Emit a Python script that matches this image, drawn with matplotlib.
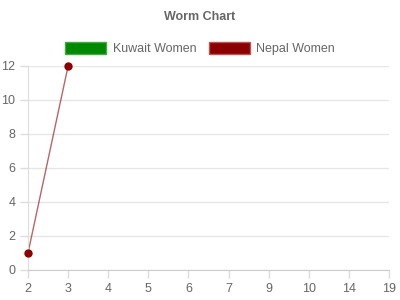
import numpy as np
import matplotlib
matplotlib.use('Agg')
import matplotlib.pyplot as plt
from matplotlib.patches import Patch

plt.rcParams['font.family'] = ['Liberation Sans', 'DejaVu Sans']

categories = ['2', '3', '4', '5', '6', '7', '9', '10', '14', '19']
kuwait_women = [np.nan] * 10
nepal_women = [1, 12] + [np.nan] * 8

fig = plt.figure(figsize=(4, 3), dpi=100)
ax = fig.add_axes([0.07, 0.1, 0.9025, 0.68])

x = np.arange(len(categories))
ax.plot(x, kuwait_women, color='#008800', marker='o', ms=5, lw=1, clip_on=False)
ax.plot(x, nepal_women, color=(0.545, 0, 0, 0.6), lw=1, clip_on=False)
ax.plot(x, nepal_women, 'o', color='#8b0000', ms=5, clip_on=False, zorder=3)

ax.set_xlim(0, len(categories) - 1)
ax.set_ylim(0, 12)
ax.set_xticks(x)
ax.set_xticklabels(categories)
ax.set_yticks(range(0, 13, 2))
ax.grid(axis='y', color='#e6e6e6', lw=1)
ax.set_axisbelow(True)
ax.tick_params(colors='#666666', labelsize=9, length=6, width=1)
ax.tick_params(axis='both', color='#dddddd', pad=3)
for s in ['top', 'right']:
    ax.spines[s].set_visible(False)
ax.spines['left'].set_color('#dddddd')
ax.spines['bottom'].set_color('#cccccc')

fig.text(0.5, 0.945, 'Worm Chart', ha='center', va='center', fontsize=9,
         fontweight='bold', color='#666666')

handles = [Patch(facecolor='#008800', edgecolor='#44aa44', label='Kuwait Women'),
           Patch(facecolor='#8b0000', edgecolor='#bb5555', label='Nepal Women')]
fig.legend(handles=handles, loc='center', bbox_to_anchor=(0.5, 0.837), ncol=2,
           frameon=False, fontsize=9, labelcolor='#666666', handlelength=3.3,
           handleheight=1.0, handletextpad=0.5, columnspacing=1.0)

fig.savefig('out.png', dpi=100)
